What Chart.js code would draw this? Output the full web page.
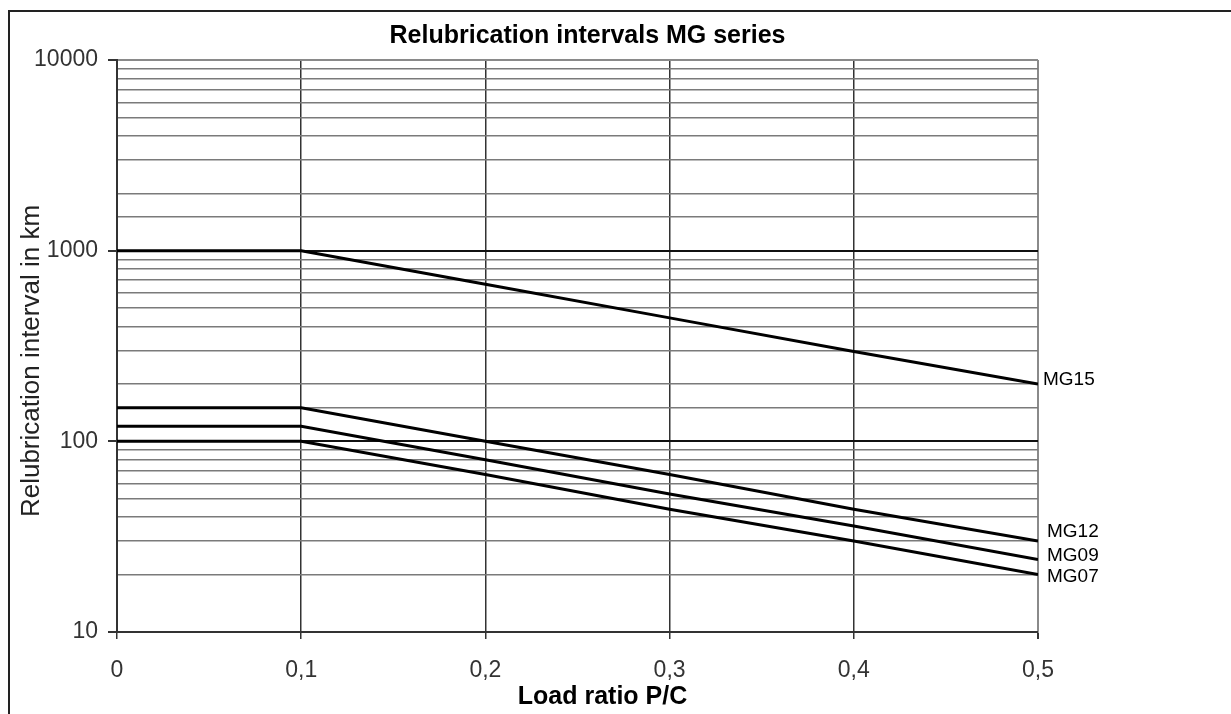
<!DOCTYPE html>
<html>
<head>
<meta charset="utf-8">
<title>Relubrication intervals MG series</title>
<script src="https://cdn.jsdelivr.net/npm/chart.js@4"></script>
<style>
    html, body { margin: 0; padding: 0; background: #fff; overflow: hidden; }
    #frame { position: absolute; left: 8px; top: 10px; width: 1300px; height: 800px; border: 2px solid #222; }
    #wrap { position: absolute; left: 0; top: 0; width: 1231px; height: 714px; }
</style>
</head>
<body>
<div id="frame"></div>
<div id="wrap"><canvas id="lubeChart" width="1231" height="714"></canvas></div>
<script>
// load ratio P/C
const loadRatio = [0, 0.1, 0.2, 0.3, 0.4, 0.5];
// relubrication interval in km
const mg15 = [1000, 1000, 667, 444, 296, 200];
const mg12 = [150, 150, 100, 67, 44, 30];
const mg09 = [120, 120, 80, 53, 36, 24];
const mg07 = [100, 100, 67, 44, 30, 20];
const seriesNames = ["MG15", "MG12", "MG09", "MG07"];
const seriesValues = [mg15, mg12, mg09, mg07];
const yTickLabels = [10, 100, 1000, 10000];

const chartTitle = "Relubrication intervals MG series";
const xTitle = "Load ratio P/C";
const yTitle = "Relubrication interval in km";

const font = "'Liberation Sans', Arial, sans-serif";
const isDecade = (v) => yTickLabels.includes(v);

// titles + name at the right end of each line
const texts = {
    id: "texts",
    afterDatasetsDraw(chart, args, opts) {
        const ctx = chart.ctx;
        const area = chart.chartArea;
        ctx.save();
        ctx.font = "19px " + font;
        ctx.fillStyle = "#000";
        ctx.textBaseline = "middle";
        ctx.textAlign = "left";
        chart.data.datasets.forEach((ds, i) => {
            const pts = chart.getDatasetMeta(i).data;
            const last = pts[pts.length - 1];
            const off = opts.offsets[i];
            ctx.fillText(ds.label, last.x + off[0], last.y + off[1]);
        });

        const mid = (area.left + area.right) / 2;
        ctx.textAlign = "center";
        ctx.font = "bold 25px " + font;
        ctx.fillText(chartTitle, mid + 10, 36);
        ctx.fillText(xTitle, mid + 25, 697);

        ctx.fillStyle = "#222";
        ctx.font = "26px " + font;
        ctx.translate(32, (area.top + area.bottom) / 2 + 15);
        ctx.rotate(-Math.PI / 2);
        ctx.fillText(yTitle, 0, 0);
        ctx.restore();
    }
};

const ctx = document.getElementById("lubeChart").getContext("2d");

new Chart(ctx, {
    type: "line",
    data: {
        datasets: seriesNames.map((name, i) => ({
            label: name,
            data: loadRatio.map((x, j) => ({ x: x, y: seriesValues[i][j] })),
            borderColor: "#000",
            borderWidth: 3,
            pointRadius: 0,
            tension: 0,
            fill: false
        }))
    },
    options: {
        responsive: false,
        animation: false,
        devicePixelRatio: 1,
        layout: { padding: { left: 0, right: 193, top: 60, bottom: 0 } },
        plugins: {
            legend: { display: false },
            tooltip: { enabled: false },
            texts: {
                offsets: [[5, -4], [9, -9], [9, -4], [9, 2]]
            }
        },
        scales: {
            x: {
                type: "linear",
                min: 0,
                max: 0.5,
                afterFit: (scale) => { scale.height = 82; },
                ticks: {
                    stepSize: 0.1,
                    color: "#333",
                    padding: 18,
                    font: { family: font, size: 23 },
                    callback: (v) => v === 0 ? "0" : v.toFixed(1).replace(".", ",")
                },
                grid: {
                    color: (c) => c.tick && Math.abs(c.tick.value - 0.5) < 1e-9 ? "#8a8a8a" : "#333",
                    lineWidth: (c) => c.tick && Math.abs(c.tick.value - 0.5) < 1e-9 ? 2 : 1.5,
                    tickColor: "#333",
                    tickLength: 7
                },
                border: { color: "#333", width: 2 }
            },
            y: {
                type: "logarithmic",
                min: 10,
                max: 10000,
                afterFit: (scale) => { scale.width = 117; },
                ticks: {
                    autoSkip: false,
                    color: "#333",
                    padding: 10,
                    font: { family: font, size: 23 },
                    callback: (v) => isDecade(v) ? String(v) : ""
                },
                grid: {
                    color: (c) => {
                        const v = c.tick ? c.tick.value : 0;
                        if (v === 10000) return "#8a8a8a";
                        return isDecade(v) ? "#111" : "#7a7a7a";
                    },
                    lineWidth: (c) => c.tick && isDecade(c.tick.value) ? 2 : 1.5,
                    tickColor: (c) => c.tick && isDecade(c.tick.value) ? "#333" : "rgba(0,0,0,0)",
                    tickLength: 9
                },
                border: { color: "#333", width: 2 }
            }
        }
    },
    plugins: [texts]
});
</script>
</body>
</html>
